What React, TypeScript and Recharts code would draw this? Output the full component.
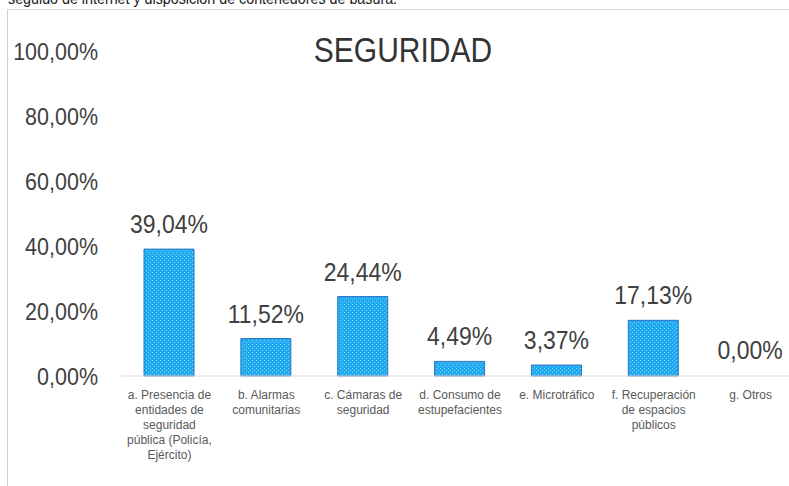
import React from 'react';
import { BarChart, Bar, XAxis, YAxis, LabelList, Cell } from 'recharts';

const categories = [
  'a. Presencia de\nentidades de\nseguridad\npública (Policía,\nEjército)',
  'b. Alarmas\ncomunitarias',
  'c. Cámaras de\nseguridad',
  'd. Consumo de\nestupefacientes',
  'e. Microtráfico',
  'f. Recuperación\nde espacios\npúblicos',
  'g. Otros',
];
const values = [39.04, 11.52, 24.44, 4.49, 3.37, 17.13, 0];
const yTicks = [0, 20, 40, 60, 80, 100];
const title = 'SEGURIDAD';
const headerText = 'seguido de internet y disposición de contenedores de basura.';

const data = categories.map((c, i) => ({ name: c, value: values[i] }));

const FONT = '"Liberation Sans", Arial, sans-serif';
const fmt = (v: number) => v.toFixed(2).replace('.', ',') + '%';

const YTick = (props: any) => {
  const { x, y, payload } = props;
  return (
    <text
      transform={`translate(${x - 21},${y + 9}) scale(1,1.15)`}
      textAnchor="end"
      fontSize={21.5}
      fill="#404040"
      fontFamily={FONT}
    >
      {fmt(payload.value)}
    </text>
  );
};

const XTick = (props: any) => {
  const { x, y, payload } = props;
  const lines = String(payload.value).split('\n');
  return (
    <g transform={`translate(${x},${y})`}>
      {lines.map((l, i) => (
        <text key={i} x={0} y={21 + i * 15} textAnchor="middle" fontSize={12} fill="#595959" fontFamily={FONT}>
          {l}
        </text>
      ))}
    </g>
  );
};

const BarLabel = (props: any) => {
  const { x, y, width, height, value } = props;
  const top = Number(y) + Math.min(0, Number(height));
  return (
    <text
      transform={`translate(${Number(x) + Number(width) / 2},${top - 16}) scale(1,1.1)`}
      textAnchor="middle"
      fontSize={23}
      fill="#404040"
      fontFamily={FONT}
    >
      {fmt(Number(value))}
    </text>
  );
};

export default function App() {
  return (
    <div style={{ position: 'fixed', left: 0, top: 0, width: 789, height: 486, overflow: 'hidden', background: '#fff' }}>
      <svg width={0} height={0} style={{ position: 'absolute' }}>
        <defs>
          <pattern id="dots" width={4} height={4} patternUnits="userSpaceOnUse">
            <rect width={4} height={4} fill="#1fa9ee" />
            <rect x={0} y={0} width={1} height={1} fill="#80d0f7" />
            <rect x={2} y={2} width={1} height={1} fill="#80d0f7" />
          </pattern>
        </defs>
      </svg>
      <div
        style={{
          position: 'absolute', left: 7, top: 9, width: 782, height: 477,
          borderLeft: '1px solid #cfcfcf', borderTop: '1px solid #dcdcdc', boxSizing: 'border-box',
        }}
      />
      <div style={{ position: 'absolute', left: 0, top: 0 }}>
        <BarChart width={810} height={486} data={data} margin={{ top: 51, right: 11, left: 0, bottom: 10 }}>
          <XAxis
            dataKey="name"
            interval={0}
            height={100}
            tick={<XTick />}
            tickLine={false}
            tickSize={0}
            axisLine={{ stroke: '#d9d9d9' }}
          />
          <YAxis
            domain={[0, 100]}
            ticks={yTicks}
            width={121}
            axisLine={false}
            tickLine={false}
            tickSize={0}
            tick={<YTick />}
          />
          <Bar
            dataKey="value"
            fill="url(#dots)"
            stroke="#2a74c0"
            strokeWidth={1}
            barSize={50}
            minPointSize={1}
            isAnimationActive={false}
          >
            {data.map((d, i) => (
              <Cell
                key={i}
                fill={d.value === 0 ? 'none' : 'url(#dots)'}
                stroke={d.value === 0 ? 'none' : '#2a74c0'}
              />
            ))}
            <LabelList dataKey="value" content={<BarLabel />} />
          </Bar>
        </BarChart>
      </div>
      <svg width={789} height={486} style={{ position: 'absolute', left: 0, top: 0, pointerEvents: 'none' }}>
        <text transform="translate(8,4) scale(1,1.15)" fontSize={14.3} fill="#222" fontFamily={FONT}>
          {headerText}
        </text>
        <text transform="translate(403,62) scale(1,1.15)" textAnchor="middle" fontSize={30} fill="#333" fontFamily={FONT}>
          {title}
        </text>
      </svg>
    </div>
  );
}
